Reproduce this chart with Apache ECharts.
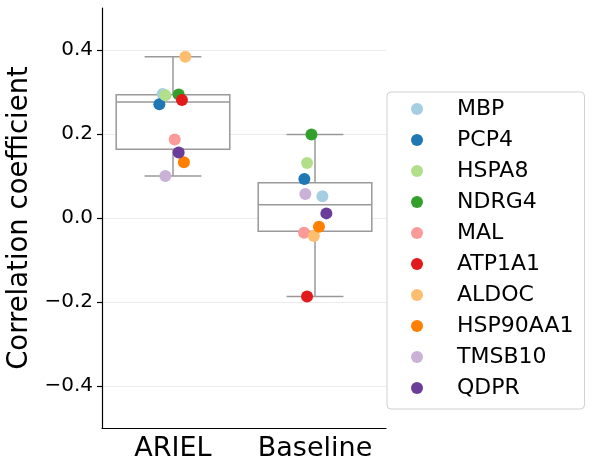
<!DOCTYPE html>
<html><head><meta charset="utf-8">
<script src="https://cdn.jsdelivr.net/npm/echarts@6/dist/echarts.min.js"></script>
<style>html,body{margin:0;padding:0;background:#fff}#c{width:592px;height:472px}</style>
</head><body><div id="c"></div>
<script>
const methods = ['ARIEL', 'Baseline'];
const genes = ['MBP','PCP4','HSPA8','NDRG4','MAL','ATP1A1','ALDOC','HSP90AA1','TMSB10','QDPR'];
const arielValues    = [0.295, 0.271, 0.292, 0.294, 0.187, 0.281, 0.384, 0.133, 0.100, 0.156];
const baselineValues = [0.052, 0.093, 0.131, 0.199, -0.035, -0.187, -0.043, -0.021, 0.057, 0.011];
const arielJitter    = [-0.073, -0.096, -0.054, 0.040, 0.012, 0.063, 0.087, 0.077, -0.054, 0.040];
const baselineJitter = [0.052, -0.075, -0.056, -0.025, -0.077, -0.056, -0.008, 0.028, -0.068, 0.080];
const yTicks = [-0.4, -0.2, 0, 0.2, 0.4];
const geneColors = ['#a6cee3','#1f78b4','#b2df8a','#33a02c','#fb9a99','#e31a1c','#fdbf6f','#ff7f00','#cab2d6','#6a3d9a'];

function quantile(sorted, p) {
  const pos = (sorted.length - 1) * p;
  const lo = Math.floor(pos), hi = Math.ceil(pos);
  return sorted[lo] + (sorted[hi] - sorted[lo]) * (pos - lo);
}
function boxStats(vals, idx) {
  const s = vals.slice().sort((a, b) => a - b);
  const q1 = quantile(s, 0.25), med = quantile(s, 0.5), q3 = quantile(s, 0.75);
  const iqr = q3 - q1;
  const lo = s.filter(v => v >= q1 - 1.5 * iqr)[0];
  const hiArr = s.filter(v => v <= q3 + 1.5 * iqr);
  const hi = hiArr[hiArr.length - 1];
  return [idx, lo, q1, med, q3, hi];
}
const boxData = [boxStats(arielValues, 0), boxStats(baselineValues, 1)];

const FONT = 'DejaVu Sans';
const boxColor = '#999999';

const series = [{
  type: 'custom',
  xAxisIndex: 0,
  yAxisIndex: 0,
  z: 2,
  encode: { x: 0, y: [1, 2, 3, 4, 5] },
  data: boxData,
  renderItem: function (params, api) {
    const ci = api.value(0);
    const lo = api.coord([ci, api.value(1)]);
    const q1 = api.coord([ci, api.value(2)]);
    const med = api.coord([ci, api.value(3)]);
    const q3 = api.coord([ci, api.value(4)]);
    const hi = api.coord([ci, api.value(5)]);
    const bw = api.size([1, 0])[0] * 0.8;
    const x = lo[0];
    const st = { stroke: boxColor, lineWidth: 1.5, fill: null };
    return { type: 'group', children: [
      { type: 'line', shape: { x1: x, y1: q3[1], x2: x, y2: hi[1] }, style: st },
      { type: 'line', shape: { x1: x, y1: q1[1], x2: x, y2: lo[1] }, style: st },
      { type: 'line', shape: { x1: x - bw / 4, y1: hi[1], x2: x + bw / 4, y2: hi[1] }, style: st },
      { type: 'line', shape: { x1: x - bw / 4, y1: lo[1], x2: x + bw / 4, y2: lo[1] }, style: st },
      { type: 'rect', shape: { x: x - bw / 2, y: q3[1], width: bw, height: q1[1] - q3[1] }, style: { fill: '#ffffff', stroke: boxColor, lineWidth: 1.5 } },
      { type: 'line', shape: { x1: x - bw / 2, y1: med[1], x2: x + bw / 2, y2: med[1] }, style: st }
    ]};
  }
}];

genes.forEach(function (g, i) {
  series.push({
    name: g,
    type: 'scatter',
    xAxisIndex: 1,
    yAxisIndex: 0,
    z: 5,
    symbol: 'circle',
    symbolSize: 12,
    itemStyle: { color: geneColors[i], opacity: 1 },
    data: [[0 + arielJitter[i], arielValues[i]], [1 + baselineJitter[i], baselineValues[i]]]
  });
});

const chart = echarts.init(document.getElementById('c'), null, { renderer: 'canvas' });
chart.setOption({
  animation: false,
  backgroundColor: '#ffffff',
  textStyle: { fontFamily: FONT },
  grid: { left: 102, right: 206, top: 8, bottom: 44, containLabel: false },
  xAxis: [{
    type: 'category',
    data: methods,
    boundaryGap: true,
    position: 'bottom',
    axisLine: { onZero: false, lineStyle: { color: '#000', width: 1.2 } },
    axisTick: { alignWithLabel: true, length: 5, lineStyle: { color: '#000', width: 1.2 } },
    axisLabel: { interval: 0, fontSize: 27, color: '#000', fontFamily: FONT, margin: 7 },
    splitLine: { show: false }
  }, {
    type: 'value',
    min: -0.5, max: 1.5,
    show: false,
    axisLine: { onZero: false },
    splitLine: { show: false }
  }],
  yAxis: [{
    type: 'value',
    min: -0.5, max: 0.5,
    position: 'left',
    name: 'Correlation coefficient',
    nameLocation: 'middle',
    nameGap: 68,
    nameTextStyle: { fontSize: 27.5, color: '#000', fontFamily: FONT },
    axisLine: { show: true, onZero: false, lineStyle: { color: '#000', width: 1.2 } },
    axisTick: { show: true, length: 5, customValues: yTicks, lineStyle: { color: '#000', width: 1.2 } },
    axisLabel: {
      fontSize: 20, color: '#000', fontFamily: FONT, margin: 9,
      customValues: yTicks,
      formatter: function (v) { return (v < 0 ? '\u2212' : '') + Math.abs(v).toFixed(1); }
    },
    splitLine: { show: true, lineStyle: { color: '#ebebeb', width: 1 } }
  }],
  legend: {
    data: genes,
    orient: 'vertical',
    left: 387,
    top: 92,
    icon: 'circle',
    itemWidth: 12,
    itemHeight: 12,
    itemGap: 9,
    padding: [6, 11, 10, 24],
    borderColor: '#d0d0d0',
    borderWidth: 1,
    borderRadius: 4,
    backgroundColor: '#ffffff',
    textStyle: { fontSize: 22, lineHeight: 22, color: '#000', fontFamily: FONT, padding: [0, 0, 0, 29] }
  },
  series: series
});
</script>
</body></html>
